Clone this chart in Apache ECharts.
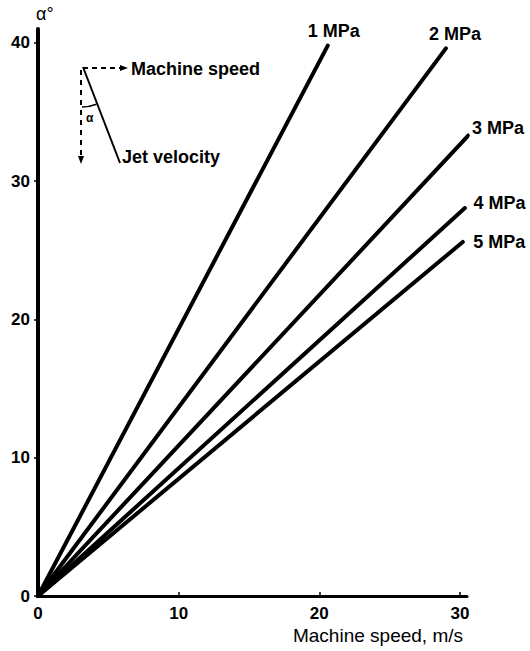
<!DOCTYPE html>
<html>
<head>
<meta charset="utf-8">
<script src="https://cdn.jsdelivr.net/npm/echarts@6/dist/echarts.min.js"></script>
<style>
  html, body { margin: 0; padding: 0; background: #fff; }
  #chart { width: 530px; height: 651px; }
</style>
</head>
<body>
<div id="chart"></div>
<script>
// Jet angle α (degrees) against machine speed (m/s) for five jet pressures.
// Each pressure curve is a straight line from the origin to its end point.
const pressures = ['1 MPa', '2 MPa', '3 MPa', '4 MPa', '5 MPa'];
const startSpeed = [0, 0, 0, 0, 0];
const startAngle = [0, 0, 0, 0, 0];
const endSpeed = [20.6, 29.0, 30.6, 30.35, 30.2];
const endAngle = [39.8, 39.6, 33.3, 28.05, 25.6];

const xTicks = [0, 10, 20, 30];
const yTicks = [0, 10, 20, 30, 40];

const FONT = '"Liberation Sans", Arial, sans-serif';

// where each pressure label sits relative to its line end
const labelPlacement = [
  { position: 'top', distance: 4, offset: [6, 0] },
  { position: 'top', distance: 4, offset: [9, 0] },
  { position: 'right', distance: 2, offset: [0, -7] },
  { position: 'right', distance: 7, offset: [0, -5] },
  { position: 'right', distance: 9, offset: [0, 0] }
];

const series = pressures.map((name, i) => ({
  name: name,
  type: 'line',
  clip: false,
  symbol: 'circle',
  symbolSize: 3,
  itemStyle: { color: '#000' },
  lineStyle: { color: '#000', width: 4, cap: 'round' },
  animation: false,
  data: [
    [startSpeed[i], startAngle[i]],
    {
      value: [endSpeed[i], endAngle[i]],
      label: Object.assign({
        show: true,
        formatter: name,
        color: '#000',
        fontFamily: FONT,
        fontWeight: 'bold',
        fontSize: 18
      }, labelPlacement[i])
    }
  ]
}));

const chart = echarts.init(document.getElementById('chart'), null, { renderer: 'svg' });

chart.setOption({
  backgroundColor: '#fff',
  animation: false,
  grid: { left: 38, right: 63, top: 29, bottom: 55 },
  xAxis: {
    type: 'value',
    min: 0,
    max: 30.5,
    splitLine: { show: false },
    axisLine: { lineStyle: { color: '#000', width: 3 } },
    axisTick: { show: true, customValues: xTicks, length: 4, inside: true, lineStyle: { color: '#000', width: 1.5 } },
    axisLabel: {
      customValues: xTicks,
      color: '#000', fontFamily: FONT, fontWeight: 'bold', fontSize: 17, margin: 9
    }
  },
  yAxis: {
    type: 'value',
    min: 0,
    max: 41,
    name: 'α°',
    nameLocation: 'end',
    nameGap: 6,
    nameTextStyle: { color: '#000', fontFamily: FONT, fontSize: 18, align: 'left', padding: [0, 0, 0, -2] },
    splitLine: { show: false },
    axisLine: { lineStyle: { color: '#000', width: 4 } },
    axisTick: { show: true, customValues: yTicks, length: 4, lineStyle: { color: '#000', width: 1.5 } },
    axisLabel: {
      customValues: yTicks,
      color: '#000', fontFamily: FONT, fontWeight: 'bold', fontSize: 17, margin: 8
    }
  },
  graphic: [
    // x-axis title
    {
      type: 'text', right: 67, top: 626,
      style: { text: 'Machine speed, m/s', fill: '#000', font: '19px ' + FONT }
    },
    // velocity triangle sketch: machine speed (dashed, horizontal)
    {
      type: 'line',
      shape: { x1: 83, y1: 68, x2: 121, y2: 68 },
      style: { stroke: '#000', lineWidth: 1.8, lineDash: [5, 4] }
    },
    {
      type: 'polygon',
      shape: { points: [[120, 65], [128, 68], [120, 71]] },
      style: { fill: '#000' }
    },
    // dashed vertical reference
    {
      type: 'line',
      shape: { x1: 81, y1: 70, x2: 81, y2: 157 },
      style: { stroke: '#000', lineWidth: 2, lineDash: [5, 5] }
    },
    {
      type: 'polygon',
      shape: { points: [[78, 156], [81, 164], [84, 156]] },
      style: { fill: '#000' }
    },
    // jet velocity (solid)
    {
      type: 'line',
      shape: { x1: 83, y1: 67, x2: 120, y2: 163 },
      style: { stroke: '#000', lineWidth: 2 }
    },
    // angle arc
    {
      type: 'arc',
      shape: { cx: 82, cy: 67, r: 40, startAngle: 1.2, endAngle: Math.PI / 2, clockwise: true },
      style: { stroke: '#000', lineWidth: 1.5, fill: 'none' }
    },
    {
      type: 'text', left: 86, top: 112,
      style: { text: 'α', fill: '#000', font: 'bold 12px ' + FONT }
    },
    {
      type: 'text', left: 131, top: 60,
      style: { text: 'Machine speed', fill: '#000', font: 'bold 18px ' + FONT }
    },
    {
      type: 'text', left: 122, top: 148,
      style: { text: 'Jet velocity', fill: '#000', font: 'bold 18px ' + FONT }
    }
  ],
  series: series
});
</script>
</body>
</html>
